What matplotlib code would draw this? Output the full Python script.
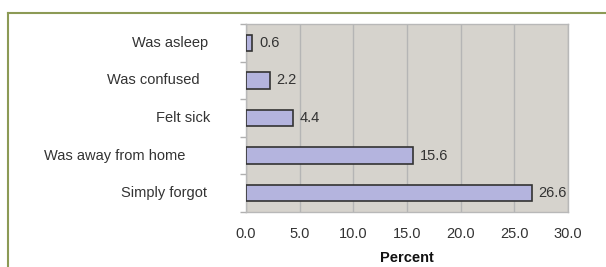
import matplotlib
matplotlib.use("Agg")
import matplotlib.pyplot as plt
import matplotlib.transforms as mtrans

categories = ["Was asleep", "Was confused", "Felt sick", "Was away from home", "Simply forgot"]
values = [0.6, 2.2, 4.4, 15.6, 26.6]
xticks = [0, 5, 10, 15, 20, 25, 30]
xlabels = ["0.0", "5.0", "10.0", "15.0", "20.0", "25.0", "30.0"]

# layout: right edge (pixels) of each category label, as in the reference
label_right_px = [208, 200, 210, 185, 207]

plt.rcParams['font.family'] = ['Liberation Sans', 'DejaVu Sans']
FS = 10.5
TXT = '#333333'

W, H = 606, 267
fig = plt.figure(figsize=(W/100, H/100), dpi=100)
fig.patch.set_facecolor('white')

# olive frame
fig.add_artist(plt.Line2D([7.5/W, 7.5/W], [0, 1-12.5/H], color='#8c9a55', lw=1.5, transform=fig.transFigure))
fig.add_artist(plt.Line2D([7.5/W, 1], [1-12.5/H, 1-12.5/H], color='#8c9a55', lw=1.5, transform=fig.transFigure))

left, right, top, bottom = 246, 568, 24, 212
ax = fig.add_axes([left/W, 1-bottom/H, (right-left)/W, (bottom-top)/H])
ax.set_facecolor('#d6d3cd')

ypos = list(range(len(categories)))
ax.barh(ypos, values, height=0.44, color='#b4b4de', edgecolor='#333333', linewidth=1.2, zorder=3)
for y, v in zip(ypos, values):
    ax.text(v + 0.6, y, f"{v:.1f}", va='center', ha='left', fontsize=FS, color=TXT, zorder=4)

ax.set_xlim(0, 30)
ax.set_ylim(len(categories) - 0.5, -0.5)
ax.set_xticks(xticks)
ax.set_xticklabels(xlabels, fontsize=FS, color=TXT)
ax.tick_params(axis='x', length=0, pad=11)
ax.set_yticks(ypos)
ax.set_yticklabels([])
ax.tick_params(axis='y', length=0)
tr = mtrans.blended_transform_factory(fig.transFigure, ax.transData)
for y, lab, rx in zip(ypos, categories, label_right_px):
    ax.text(rx/W, y, lab, transform=tr, ha='right', va='center', fontsize=FS, color=TXT, clip_on=False)
ax.set_yticks([i + 0.5 for i in range(-1, len(categories))], minor=True)
ax.tick_params(axis='y', which='minor', length=4, color='#b0b0b0', width=1)
ax.grid(axis='x', color='#b5b5b5', linewidth=1, zorder=0)
ax.set_axisbelow(True)
for s in ax.spines.values():
    s.set_color('#b8b8b8')
    s.set_linewidth(1)

ax.set_xlabel("Percent", fontsize=FS, fontweight='bold', labelpad=7, color='#111111')

fig.savefig("out.png", dpi=100)
